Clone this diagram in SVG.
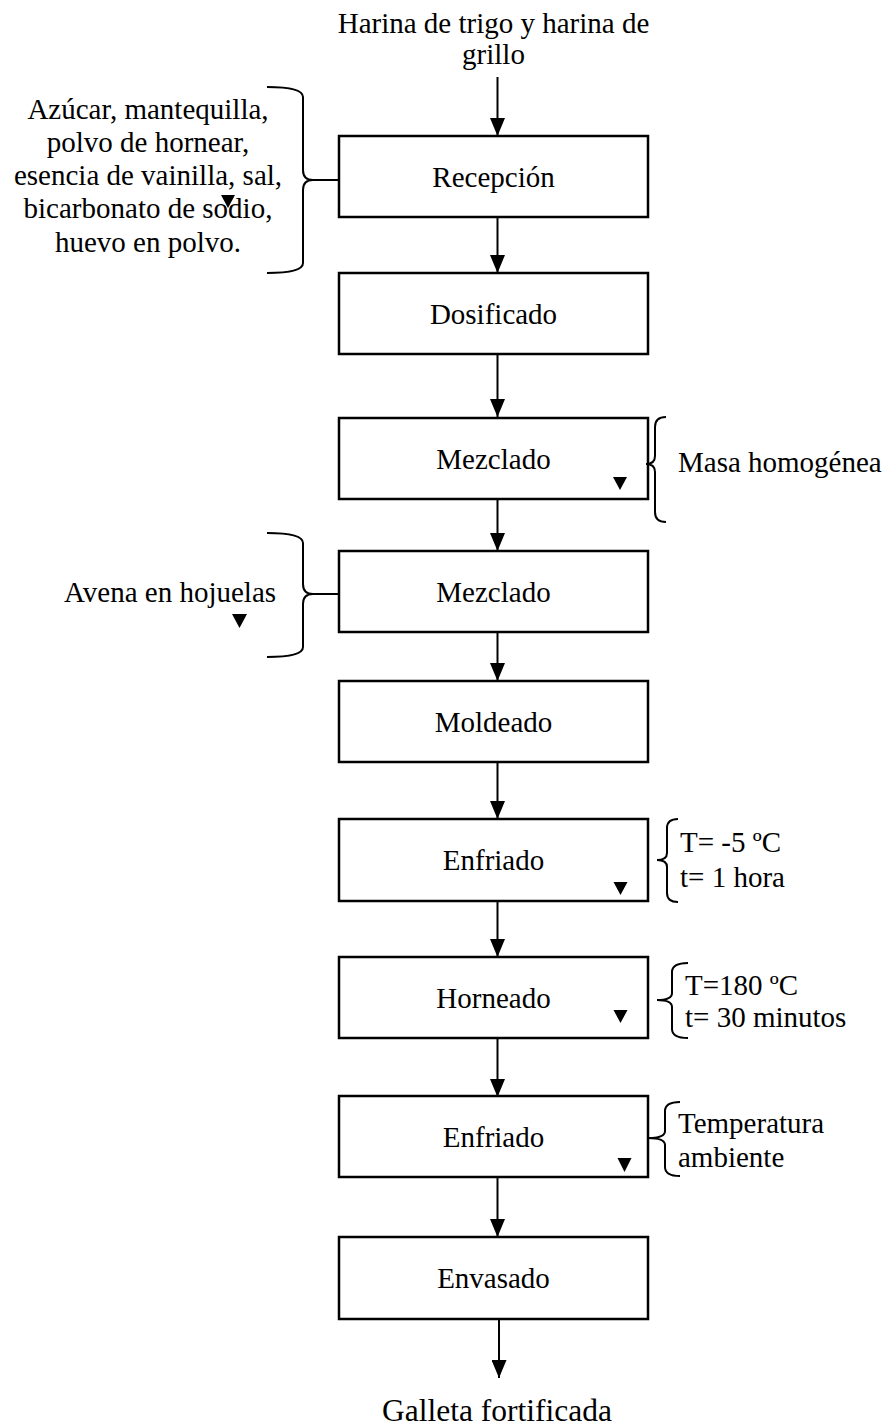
<svg xmlns="http://www.w3.org/2000/svg" width="890" height="1427" viewBox="0 0 890 1427">
<defs>
<marker id="ah" markerWidth="18" markerHeight="15" refX="18" refY="7.5" orient="auto" markerUnits="userSpaceOnUse" viewBox="0 0 18 15">
<path d="M0,0 L18,7.5 L0,15 Z" fill="#000"/>
</marker>
<style>
.box{fill:#fff;stroke:#000;stroke-width:2.5}
.t{font-family:"Liberation Serif","Times New Roman",serif;font-size:29px;fill:#000}
.c{text-anchor:middle}
.con{stroke:#000;stroke-width:2;fill:none}
.br{stroke:#000;stroke-width:2;fill:none}
.tri{fill:#000}
</style>
</defs>
<rect width="890" height="1427" fill="#fff"/>

<g id="input-top">
<text class="t c" x="493.5" y="33">Harina de trigo y harina de</text>
<text class="t c" x="493.5" y="64">grillo</text>
</g>

<g id="ingredients">
<text class="t c" x="148" y="119">Azúcar, mantequilla,</text>
<text class="t c" x="148" y="152">polvo de hornear,</text>
<text class="t c" x="148" y="185">esencia de vainilla, sal,</text>
<text class="t c" x="148" y="218">bicarbonato de sodio,</text>
<text class="t c" x="148" y="252">huevo en polvo.</text>
<path class="br" d="M267,87 Q303,87 303,97 L303,170 Q303,180 313,180 Q303,180 303,190 L303,263 Q303,273 267,273"/>
<line class="con" x1="313" y1="180" x2="339" y2="180"/>
<polygon class="tri" points="221,195 235,195 228,208"/>
</g>

<g id="recepcion">
<rect class="box" x="339" y="136" width="309" height="81"/>
<text class="t c" x="493.5" y="187">Recepción</text>
</g>

<g id="dosificado">
<rect class="box" x="339" y="273" width="309" height="81"/>
<text class="t c" x="493.5" y="324">Dosificado</text>
</g>

<g id="mezclado1">
<rect class="box" x="339" y="418" width="309" height="81"/>
<text class="t c" x="493.5" y="469">Mezclado</text>
<polygon class="tri" points="613,477 627,477 620,490"/>
</g>

<g id="masa">
<path class="br" d="M666,417 Q655,417 655,427 L655,456 Q655,464 646,464 Q655,464 655,472 L655,512 Q655,522 666,522"/>
<text class="t" x="678" y="472">Masa homogénea</text>
</g>

<g id="avena">
<text class="t" x="64" y="602">Avena en hojuelas</text>
<path class="br" d="M267,533 Q303,533 303,543 L303,584 Q303,594 313,594 Q303,594 303,604 L303,647 Q303,657 267,657"/>
<line class="con" x1="313" y1="594" x2="339" y2="594"/>
<polygon class="tri" points="232,614 247,614 239.5,628"/>
</g>

<g id="mezclado2">
<rect class="box" x="339" y="551" width="309" height="81"/>
<text class="t c" x="493.5" y="602">Mezclado</text>
</g>

<g id="moldeado">
<rect class="box" x="339" y="681" width="309" height="81"/>
<text class="t c" x="493.5" y="732">Moldeado</text>
</g>

<g id="enfriado1">
<rect class="box" x="339" y="819" width="309" height="82"/>
<text class="t c" x="493.5" y="870">Enfriado</text>
<polygon class="tri" points="613.5,882 627.5,882 620.5,895"/>
</g>

<g id="cond-enfriado1">
<path class="br" d="M678,819 Q667,819 667,828 L667,853 Q667,860 657,860 Q667,860 667,867 L667,893 Q667,902 678,902"/>
<text class="t" x="680" y="852">T= -5 ºC</text>
<text class="t" x="680" y="887">t= 1 hora</text>
</g>

<g id="horneado">
<rect class="box" x="339" y="957" width="309" height="81"/>
<text class="t c" x="493.5" y="1008">Horneado</text>
<polygon class="tri" points="613.5,1010 627.5,1010 620.5,1023"/>
</g>

<g id="cond-horneado">
<path class="br" d="M688,963 Q672,963 672,972 L672,993 Q672,1000 657,1000 Q672,1000 672,1007 L672,1029 Q672,1038 688,1038"/>
<text class="t" x="685" y="995">T=180 ºC</text>
<text class="t" x="685" y="1027">t= 30 minutos</text>
</g>

<g id="enfriado2">
<rect class="box" x="339" y="1096" width="309" height="81"/>
<text class="t c" x="493.5" y="1147">Enfriado</text>
<polygon class="tri" points="617.5,1158 631.5,1158 624.5,1172"/>
</g>

<g id="cond-enfriado2">
<path class="br" d="M680,1102 Q665,1102 665,1111 L665,1131 Q665,1138 648,1138 Q665,1138 665,1145 L665,1167 Q665,1176 680,1176"/>
<text class="t" x="678" y="1133">Temperatura</text>
<text class="t" x="678" y="1167">ambiente</text>
</g>

<g id="envasado">
<rect class="box" x="339" y="1237" width="309" height="82"/>
<text class="t c" x="493.5" y="1288">Envasado</text>
</g>

<g id="output">
<text class="t c" x="497" y="1421" style="font-size:31.5px">Galleta fortificada</text>
</g>

<g id="connectors">
<line class="con" x1="497.5" y1="77" x2="497.5" y2="136" marker-end="url(#ah)"/>
<line class="con" x1="497.5" y1="217" x2="497.5" y2="273" marker-end="url(#ah)"/>
<line class="con" x1="497.5" y1="354" x2="497.5" y2="417" marker-end="url(#ah)"/>
<line class="con" x1="497.5" y1="499" x2="497.5" y2="551" marker-end="url(#ah)"/>
<line class="con" x1="497.5" y1="632" x2="497.5" y2="681" marker-end="url(#ah)"/>
<line class="con" x1="497.5" y1="762" x2="497.5" y2="819" marker-end="url(#ah)"/>
<line class="con" x1="497.5" y1="901" x2="497.5" y2="957" marker-end="url(#ah)"/>
<line class="con" x1="497.5" y1="1038" x2="497.5" y2="1097" marker-end="url(#ah)"/>
<line class="con" x1="497.5" y1="1177" x2="497.5" y2="1237" marker-end="url(#ah)"/>
<line class="con" x1="499" y1="1320" x2="499" y2="1378" marker-end="url(#ah)"/>
</g>
</svg>
